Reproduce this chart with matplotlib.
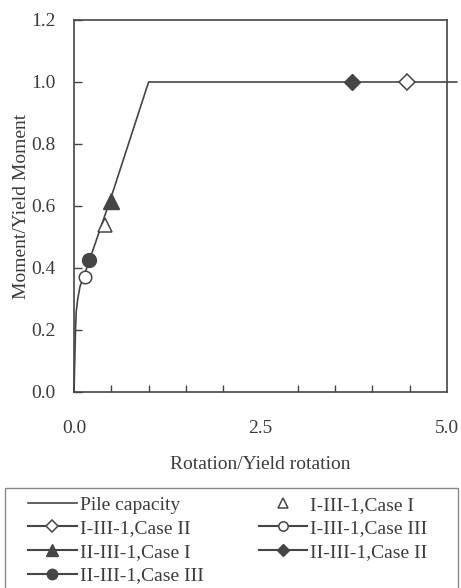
import numpy as np
import matplotlib.pyplot as plt
from matplotlib.patches import Rectangle

plt.rcParams['font.family'] = ['Liberation Serif', 'DejaVu Serif']

# Pile capacity curve (rotation/yield rotation, moment/yield moment)
cap_x = [0.0, 0.01, 0.02, 0.03, 0.05, 0.08, 0.12, 0.2, 0.5, 1.0, 5.13]
cap_y = [0.0, 0.10, 0.20, 0.26, 0.30, 0.34, 0.365, 0.42, 0.63, 1.0, 1.0]

# Case points
c1_I_x, c1_I_y = [0.42], [0.54]
c1_II_x, c1_II_y = [4.46], [1.0]
c1_III_x, c1_III_y = [0.15], [0.37]
c2_I_x, c2_I_y = [0.5], [0.615]
c2_II_x, c2_II_y = [3.73], [1.0]
c2_III_x, c2_III_y = [0.2], [0.425]

ink = '#454545'
txt = '#3c3c3c'

fig = plt.figure(figsize=(4.61, 5.88), dpi=100)
ax = fig.add_axes([74/461, 1-392/588, (447-74)/461, (392-20)/588])

ax.plot(cap_x, cap_y, color=ink, lw=1.2, label='Pile capacity', clip_on=False, zorder=2)
ms = 9
ax.plot(c1_I_x, c1_I_y, ls='none', marker='^', mfc='white', mec=ink, ms=ms+1, mew=1.1,
        label='I-III-1,Case I', zorder=3)
ax.plot(c1_II_x, c1_II_y, color=ink, marker='D', mfc='white', mec=ink, ms=ms-1, mew=1.1,
        label='I-III-1,Case II', zorder=3)
ax.plot(c2_I_x, c2_I_y, color=ink, marker='^', mfc=ink, mec=ink, ms=ms+2,
        label='II-III-1,Case I', zorder=3)
ax.plot(c1_III_x, c1_III_y, color=ink, marker='o', mfc='white', mec=ink, ms=ms, mew=1.1,
        label='I-III-1,Case III', zorder=3)
ax.plot(c2_III_x, c2_III_y, color=ink, marker='o', mfc=ink, mec=ink, ms=ms+1,
        label='II-III-1,Case III', zorder=3)
ax.plot(c2_II_x, c2_II_y, color=ink, marker='D', mfc=ink, mec=ink, ms=ms-1,
        label='II-III-1,Case II', zorder=3)

ax.set_xlim(0, 5)
ax.set_ylim(0, 1.2)
ax.set_xticks([0, 2.5, 5.0])
ax.set_xticks(np.arange(0, 5.01, 0.5), minor=True)
ax.set_xticklabels(['0.0', '2.5', '5.0'])
ax.set_yticks(np.arange(0, 1.21, 0.2))
ax.set_yticklabels([f'{v:.1f}' for v in np.arange(0, 1.21, 0.2)])
ax.tick_params(axis='both', which='both', direction='in', color=ink, labelcolor=txt,
               labelsize=14, width=1)
ax.tick_params(axis='x', which='major', length=0, pad=20)
ax.tick_params(axis='x', which='minor', length=5)
ax.tick_params(axis='y', length=6, pad=13)
for s in ax.spines.values():
    s.set_color(ink)
    s.set_linewidth(1.2)

ax.set_xlabel('Rotation/Yield rotation', fontsize=14, color=txt, labelpad=14)
ax.set_ylabel('Moment/Yield Moment', fontsize=14, color=txt, labelpad=1)

# legend box
fig.patches.append(Rectangle((5/461, 1-600/588), 453/461, 112/588,
                             transform=fig.transFigure, fill=False,
                             edgecolor='#888888', lw=1.0))

handles, labels = ax.get_legend_handles_labels()
order = ['Pile capacity', 'I-III-1,Case II', 'II-III-1,Case I', 'II-III-1,Case III',
         'I-III-1,Case I', 'I-III-1,Case III', 'II-III-1,Case II']
hmap = dict(zip(labels, handles))
leg = fig.legend([hmap[l] for l in order], order, loc='upper left',
                 bbox_to_anchor=(28/461, 1-496/588), ncol=2, fontsize=14,
                 frameon=False, markerscale=0.75,
                 handlelength=2.5, handletextpad=0.15, columnspacing=2.85,
                 labelspacing=0.31, borderpad=0, borderaxespad=0)
for t in leg.get_texts():
    t.set_color(txt)

fig.savefig('out.png', dpi=100)
